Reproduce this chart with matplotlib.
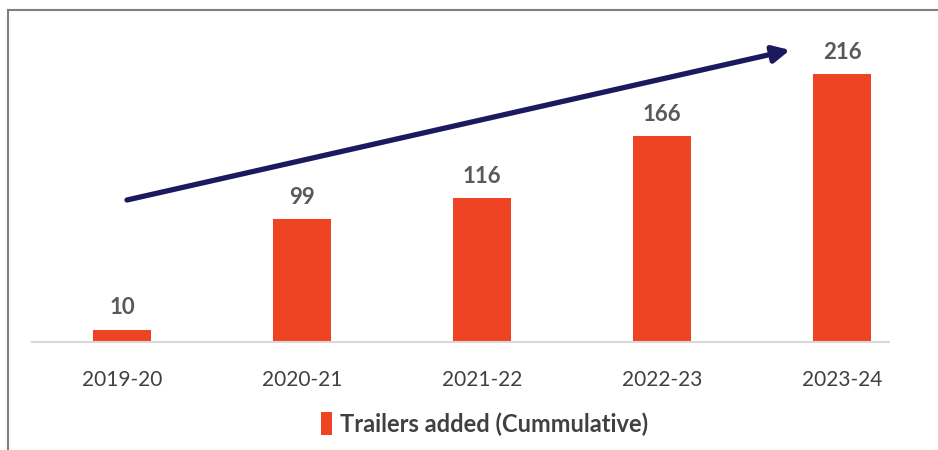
import numpy as np
import matplotlib
matplotlib.use("Agg")
from matplotlib import pyplot as plt
from matplotlib.lines import Line2D

# chart data
years = ["2019-20", "2020-21", "2021-22", "2022-23", "2023-24"]
trailers = [10, 99, 116, 166, 216]
series_name = "Trailers added (Cummulative)"

bar_color = "#EF4423"
label_grey = "#595959"
arrow_color = "#1C1A5E"

plt.rcParams['font.family'] = ['Lato', 'DejaVu Sans']

fig = plt.figure(figsize=(9.38, 4.5), dpi=100)
ax = fig.add_axes([32/938, 108/450, (889-32)/938, 310/450])

x = np.arange(len(years))
bars = ax.bar(x, trailers, width=0.32, color=bar_color)

# value labels above bars
for xi, v in zip(x, trailers):
    ax.annotate(str(v), (xi, v), xytext=(0, 8), textcoords="offset points",
                ha="center", va="bottom", fontsize=16, fontweight="bold",
                color=label_grey)

ax.set_xlim(-0.5, 4.26)
ax.set_ylim(0, 250)
ax.set_xticks(x)
ax.set_xticklabels(years, fontsize=15, color="#404040")
ax.tick_params(axis="x", length=0, pad=20)
ax.set_yticks([])
for s in ["top", "right", "left"]:
    ax.spines[s].set_visible(False)
ax.spines["bottom"].set_color("#d9d9d9")
ax.spines["bottom"].set_linewidth(1.5)

# trend arrow
ax.annotate("", xy=(790/938, 1 - 50/450), xycoords="figure fraction",
            xytext=(127/938, 1 - 200/450), textcoords="figure fraction",
            arrowprops=dict(arrowstyle="-|>,head_length=1.0,head_width=0.5",
                            color=arrow_color, lw=3.8, shrinkA=0, shrinkB=0))

# legend
fig.legend(handles=[bars], labels=[series_name], loc="center",
           bbox_to_anchor=(485/938, 1 - 424/450), frameon=False,
           prop={"size": 17, "weight": "bold"}, handlelength=0.45,
           handleheight=1.1, handletextpad=0.35, labelcolor="#404040")

# frame lines (left and top only)
fig.add_artist(Line2D([8/938, 8/938], [0, 1 - 10/450], transform=fig.transFigure,
                      color="#7f7f7f", lw=1.5))
fig.add_artist(Line2D([8/938, 1], [1 - 10/450, 1 - 10/450], transform=fig.transFigure,
                      color="#7f7f7f", lw=1.5))

fig.savefig("out.png", dpi=100)
